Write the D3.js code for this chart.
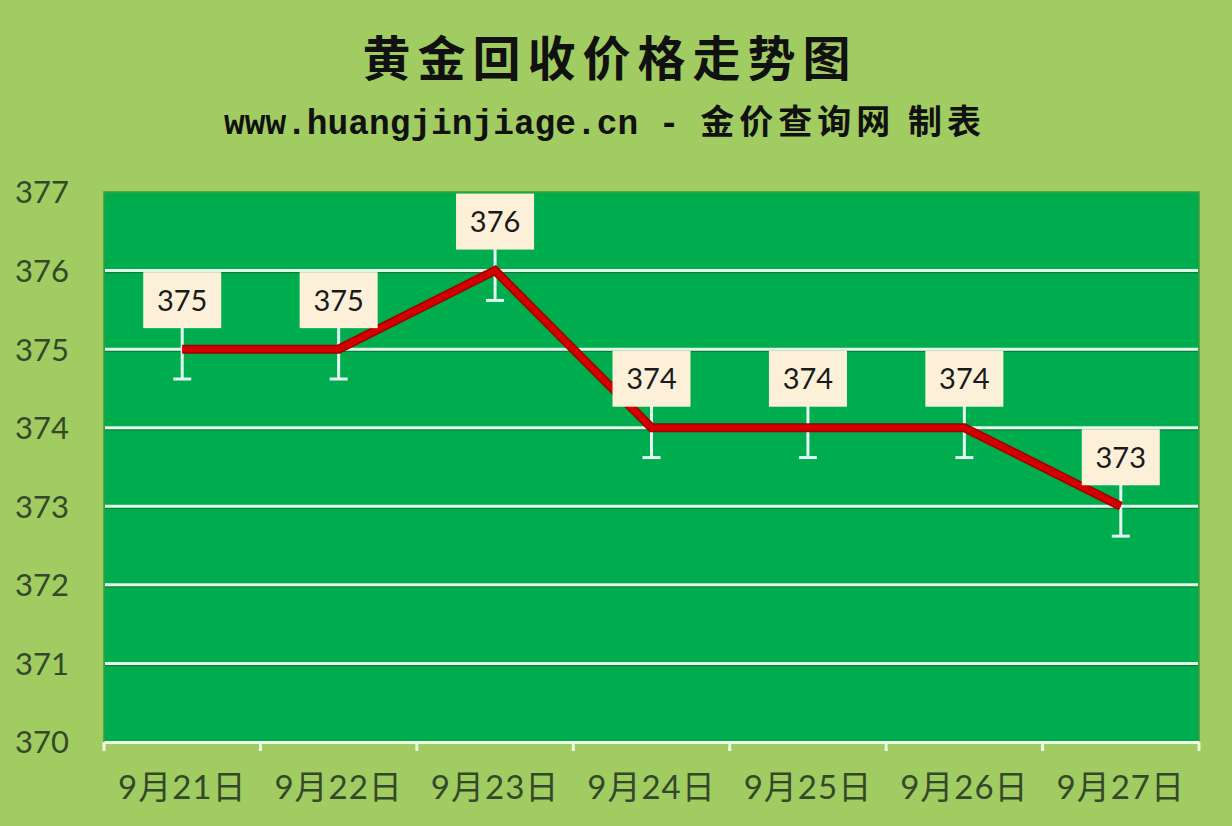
<!DOCTYPE html>
<html>
<head>
<meta charset="utf-8">
<script src="https://cdn.jsdelivr.net/npm/d3@7"></script>
<style>
  html, body { margin: 0; padding: 0; background: #a1cc62; }
  svg { display: block; }
</style>
</head>
<body>
<div id="chart"></div>
<script>
// 数据
const dates = ['9月21日', '9月22日', '9月23日', '9月24日', '9月25日', '9月26日', '9月27日'];
const prices = [375, 375, 376, 374, 374, 374, 373];
const yTicks = [370, 371, 372, 373, 374, 375, 376, 377];
const errorMinus = 0.38;   // 误差线下沿

const width = 1232, height = 826;
const margin = { top: 192, right: 33, bottom: 84, left: 104 };

const svg = d3.select('#chart')
  .append('svg')
  .attr('width', width)
  .attr('height', height);

// 背景
svg.append('rect')
  .attr('width', width)
  .attr('height', height)
  .attr('fill', '#a1cc62');

// 标题
svg.append('text')
  .attr('x', 610)
  .attr('y', 76)
  .attr('text-anchor', 'middle')
  .attr('font-family', '"Noto Sans CJK SC"')
  .attr('font-weight', 'bold')
  .attr('font-size', 48)
  .attr('letter-spacing', 7)
  .attr('fill', '#111')
  .text('黄金回收价格走势图');

const sub = svg.append('text')
  .attr('x', 605)
  .attr('y', 134)
  .attr('text-anchor', 'middle')
  .attr('font-weight', 'bold')
  .attr('fill', '#111');
sub.append('tspan')
  .attr('font-family', '"Liberation Mono", monospace')
  .attr('font-size', 34.5)
  .text('www.huangjinjiage.cn - ');
sub.append('tspan')
  .attr('font-family', '"Noto Sans CJK SC"')
  .attr('font-size', 34)
  .attr('letter-spacing', 5)
  .text('金价查询网 制表');

const x = d3.scaleBand()
  .domain(dates)
  .range([margin.left, width - margin.right]);

const y = d3.scaleLinear()
  .domain([370, 377])
  .range([height - margin.bottom, margin.top]);

// 绘图区
svg.append('rect')
  .attr('x', margin.left)
  .attr('y', margin.top)
  .attr('width', width - margin.left - margin.right)
  .attr('height', height - margin.top - margin.bottom)
  .attr('fill', '#00ad4e')
  .attr('stroke', '#3f9a3c')
  .attr('stroke-width', 1.5);

// 网格线
const grid = svg.append('g').attr('class', 'grid');
yTicks.filter(t => t > 370 && t < 377).forEach(t => {
  grid.append('line')
    .attr('x1', margin.left + 1)
    .attr('x2', width - margin.right - 1)
    .attr('y1', y(t) + 2)
    .attr('y2', y(t) + 2)
    .attr('stroke', '#0b7f3a')
    .attr('stroke-width', 1.5);
  grid.append('line')
    .attr('x1', margin.left + 1)
    .attr('x2', width - margin.right - 1)
    .attr('y1', y(t))
    .attr('y2', y(t))
    .attr('stroke', '#e3f6ea')
    .attr('stroke-width', 3);
});

// Y 轴
const yAxis = svg.append('g')
  .attr('transform', `translate(${margin.left},0)`)
  .call(d3.axisLeft(y).tickValues(yTicks).tickSize(0).tickPadding(35).tickFormat(d3.format('d')));
yAxis.select('.domain').remove();
yAxis.selectAll('text')
  .attr('font-family', 'Lato, "Open Sans", sans-serif')
  .attr('font-size', 31)
  .attr('fill', '#34482a')
  .attr('dy', '0.35em');

// X 轴
const xAxis = svg.append('g')
  .attr('transform', `translate(0,${height - margin.bottom})`)
  .call(d3.axisBottom(x).tickSize(0).tickPadding(34));
xAxis.select('.domain')
  .attr('stroke', '#eef6e4')
  .attr('stroke-width', 3);
xAxis.selectAll('text')
  .attr('font-family', 'Lato, "Noto Sans CJK SC", sans-serif')
  .attr('font-size', 33)
  .attr('letter-spacing', 1)
  .attr('fill', '#34482a');
// 刻度线位于类别边界
const bounds = dates.map(d => x(d)).concat([x.range()[1]]);
xAxis.selectAll('.bound')
  .data(bounds)
  .enter()
  .append('line')
  .attr('class', 'bound')
  .attr('x1', d => d)
  .attr('x2', d => d)
  .attr('y1', 0)
  .attr('y2', 9)
  .attr('stroke', '#eef6e4')
  .attr('stroke-width', 3);

const cx = d => x(d) + x.bandwidth() / 2;

// 误差线
const err = svg.append('g').attr('class', 'error-bars');
dates.forEach((d, i) => {
  const px = cx(d);
  err.append('line')
    .attr('x1', px).attr('x2', px)
    .attr('y1', y(prices[i] + errorMinus))
    .attr('y2', y(prices[i] - errorMinus))
    .attr('stroke', '#e2f5f2')
    .attr('stroke-width', 3);
  err.append('line')
    .attr('x1', px - 9).attr('x2', px + 9)
    .attr('y1', y(prices[i] - errorMinus))
    .attr('y2', y(prices[i] - errorMinus))
    .attr('stroke', '#e2f5f2')
    .attr('stroke-width', 3);
});

// 折线
const line = d3.line()
  .x((p, i) => cx(dates[i]))
  .y(p => y(p));

svg.append('path')
  .datum(prices)
  .attr('d', line)
  .attr('fill', 'none')
  .attr('stroke', '#a00000')
  .attr('stroke-width', 9)
  .attr('stroke-linejoin', 'miter');
svg.append('path')
  .datum(prices)
  .attr('d', line)
  .attr('fill', 'none')
  .attr('stroke', '#d20000')
  .attr('stroke-width', 6)
  .attr('stroke-linejoin', 'miter');

// 数据标签
const labels = svg.append('g').attr('class', 'labels');
dates.forEach((d, i) => {
  const px = cx(d);
  const py = y(prices[i]) - 49;
  labels.append('rect')
    .attr('x', px - 39)
    .attr('y', py - 28)
    .attr('width', 78)
    .attr('height', 56)
    .attr('fill', '#fcf0d9');
  labels.append('text')
    .attr('x', px)
    .attr('y', py)
    .attr('dy', '0.36em')
    .attr('text-anchor', 'middle')
    .attr('font-family', 'Lato, "Open Sans", sans-serif')
    .attr('font-size', 29)
    .attr('fill', '#1a1a1a')
    .text(prices[i]);
});
</script>
</body>
</html>
